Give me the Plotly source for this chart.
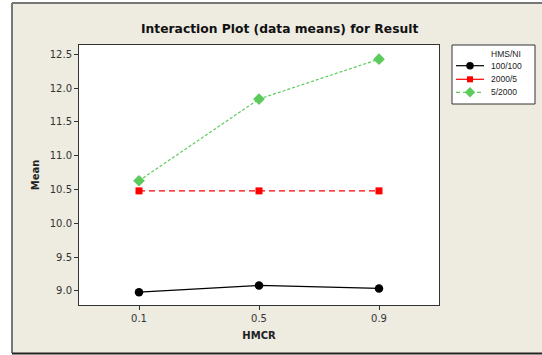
import plotly.graph_objects as go

hmcr = ["0.1", "0.5", "0.9"]
series_names = ["100/100", "2000/5", "5/2000"]
s_100_100 = [8.98, 9.08, 9.035]
s_2000_5 = [10.48, 10.48, 10.48]
s_5_2000 = [10.63, 11.84, 12.43]
y_ticks = [9.0, 9.5, 10.0, 10.5, 11.0, 11.5, 12.0, 12.5]
legend_title = "HMS/NI"

W, H = 542, 355
PL, PR, PT, PB = 79, 439, 45, 305

def px_x(x):
    return x / W

def px_y(y):
    return (H - y) / H

styles = [
    dict(line=dict(color="black", width=1.2, dash="solid"),
         marker=dict(symbol="circle", size=8.5, color="black")),
    dict(line=dict(color="#ff0000", width=1.2, dash="6px,4px"),
         marker=dict(symbol="square", size=7, color="#ff0000")),
    dict(line=dict(color="#5ccb5c", width=1.2, dash="3px,2px"),
         marker=dict(symbol="diamond", size=9, color="#5ccb5c")),
]
legend_dash = ["solid", "solid", "4px,3px"]
series_vals = [s_100_100, s_2000_5, s_5_2000]

fig = go.Figure()
for name, vals, st in zip(series_names, series_vals, styles):
    fig.add_trace(go.Scatter(x=hmcr, y=vals, name=name, mode="lines+markers",
                             showlegend=False, **st))

# custom legend keys on a hidden overlay axis in pixel units
LX0, LX1, LY0, LY1 = 452, 535, 45, 104
item_y = [65.7, 79.3, 92.3]
for name, yy, st, dsh in zip(series_names, item_y, styles, legend_dash):
    fig.add_trace(go.Scatter(x=[456, 470, 484], y=[yy, yy, yy], xaxis="x2", yaxis="y2",
                             mode="lines", line=dict(st["line"], dash=dsh),
                             showlegend=False, hoverinfo="skip"))
    fig.add_trace(go.Scatter(x=[470], y=[yy], xaxis="x2", yaxis="y2",
                             mode="markers", marker=dict(st["marker"], size=st["marker"]["size"] - 1),
                             showlegend=False, hoverinfo="skip"))
    fig.add_annotation(text=name, xref="x2", yref="y2", x=489, y=yy,
                       xanchor="left", yanchor="middle", showarrow=False,
                       font=dict(family="Liberation Sans", size=8.5, color="#222222"))
fig.add_annotation(text=legend_title, xref="x2", yref="y2", x=489, y=54,
                   xanchor="left", yanchor="middle", showarrow=False,
                   font=dict(family="Liberation Sans", size=8.5, color="#222222"))

fig.update_layout(
    width=W, height=H,
    margin=dict(l=0, r=0, t=0, b=0, pad=0, autoexpand=False),
    paper_bgcolor="white",
    plot_bgcolor="white",
    font=dict(family="DejaVu Sans", size=10, color="#333333"),
    showlegend=False,
    xaxis=dict(domain=[px_x(PL), px_x(PR)], type="category", range=[-0.5, 2.5],
               showgrid=False, zeroline=False,
               showline=True, linecolor="#333333", linewidth=1, mirror=True,
               ticks="outside", ticklen=4, tickcolor="#333333", automargin=False,
               title=dict(text="<b>HMCR</b>", font=dict(size=10, color="#222222"), standoff=8)),
    yaxis=dict(domain=[px_y(PB), px_y(PT)], range=[8.79, 12.64], tickvals=y_ticks,
               ticktext=[f"{v:.1f}" for v in y_ticks],
               showgrid=False, zeroline=False,
               showline=True, linecolor="#333333", linewidth=1, mirror=True,
               ticks="outside", ticklen=4, tickcolor="#333333", automargin=False,
               title=dict(text="<b>Mean</b>", font=dict(size=10, color="#222222"), standoff=8)),
    xaxis2=dict(domain=[px_x(LX0), px_x(LX1)], range=[LX0, LX1], anchor="y2",
                visible=False, fixedrange=True),
    yaxis2=dict(domain=[px_y(LY1), px_y(LY0)], range=[LY1, LY0], anchor="x2",
                visible=False, fixedrange=True),
)

fig.add_annotation(text="<b>Interaction Plot (data means) for Result</b>", xref="paper", yref="paper",
                   x=px_x(279.5), y=px_y(28.5), xanchor="center", yanchor="middle", showarrow=False,
                   font=dict(family="DejaVu Sans", size=12.3, color="#111111"))

# outer frame (fill + top/left/bottom edges), plot area background and legend box
fig.add_shape(type="rect", xref="paper", yref="paper",
              x0=px_x(12), x1=1, y0=px_y(353), y1=px_y(3),
              fillcolor="#eeebe1", line=dict(width=0), layer="below")
fig.add_shape(type="line", xref="paper", yref="paper",
              x0=px_x(12), x1=1, y0=px_y(3), y1=px_y(3),
              line=dict(color="#777777", width=2), layer="below")
fig.add_shape(type="line", xref="paper", yref="paper",
              x0=px_x(12), x1=px_x(12), y0=px_y(353), y1=px_y(3),
              line=dict(color="#777777", width=2), layer="below")
fig.add_shape(type="line", xref="paper", yref="paper",
              x0=px_x(12), x1=1, y0=px_y(353.5), y1=px_y(353.5),
              line=dict(color="#222222", width=2), layer="below")
fig.add_shape(type="rect", xref="paper", yref="paper",
              x0=px_x(PL), x1=px_x(PR), y0=px_y(PB), y1=px_y(PT),
              fillcolor="white", line=dict(width=0), layer="below")
fig.add_shape(type="rect", xref="paper", yref="paper",
              x0=px_x(LX0), x1=px_x(LX1), y0=px_y(LY1), y1=px_y(LY0),
              fillcolor="white", line=dict(color="#333333", width=1), layer="below")

fig.write_html("out.html", config={"displayModeBar": False},
               post_script="document.body.style.margin='0';document.body.style.overflow='hidden';")
